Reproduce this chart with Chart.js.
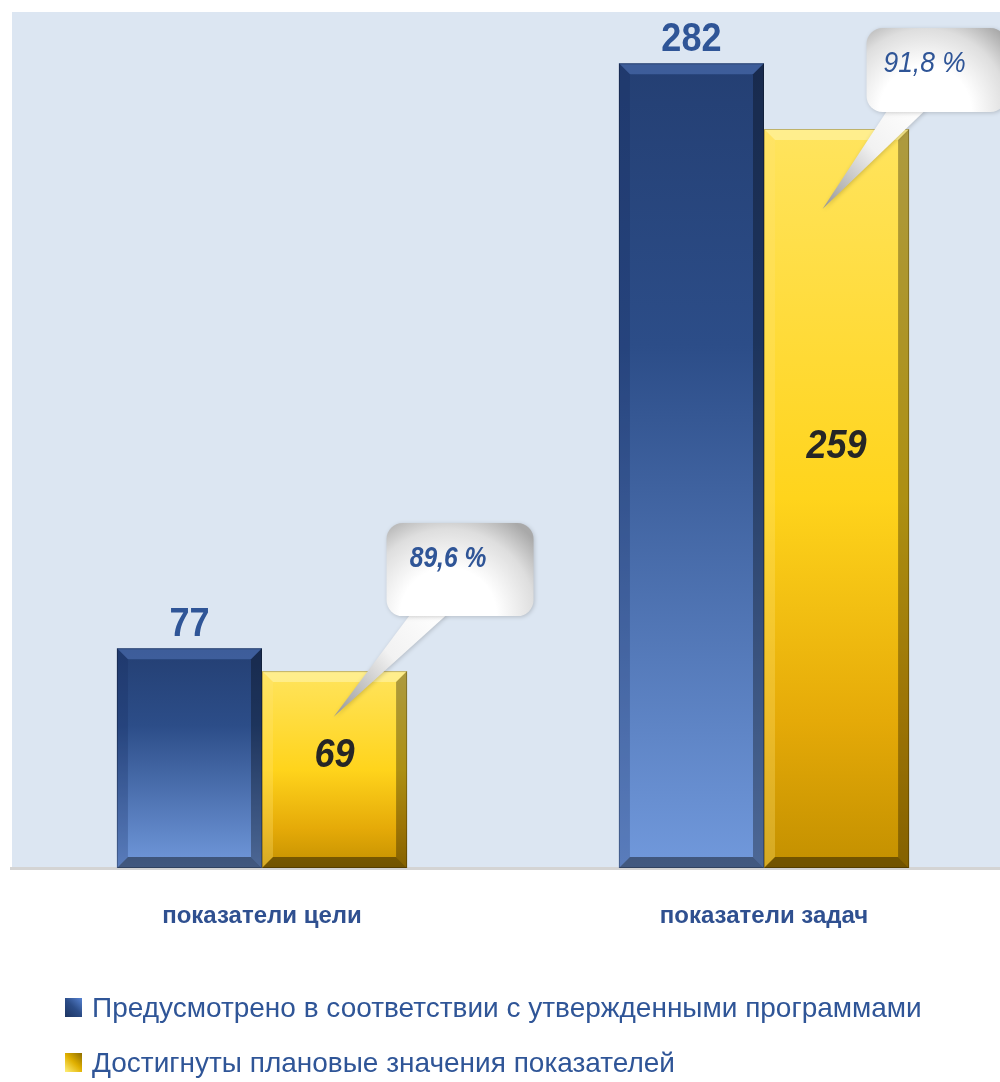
<!DOCTYPE html>
<html>
<head>
<meta charset="utf-8">
<script src="https://cdn.jsdelivr.net/npm/chart.js@4.4.1/dist/chart.umd.min.js"></script>
<style>
html,body{margin:0;padding:0;overflow:hidden;background:#fff;width:1000px;height:1082px;}
#wrap{position:absolute;left:0;top:0;width:1016px;height:1082px;}
</style>
</head>
<body>
<div id="wrap"><canvas id="c" width="1016" height="1082"></canvas></div>
<script>
const categories = ['показатели цели', 'показатели задач'];
const seriesNames = ['Предусмотрено в соответствии с утвержденными программами', 'Достигнуты плановые значения показателей'];
const planned = [77, 282];
const achieved = [69, 259];

const FONT = '"Liberation Sans", Arial, sans-serif';
const BLUE_TEXT = '#2f5597';

function pct(i){ return (achieved[i] / planned[i] * 100).toFixed(1).replace('.', ',') + ' %'; }

function barGradient(kind){
  return (ctx) => {
    const chart = ctx.chart;
    if (!chart.chartArea || ctx.raw == null) return kind === 0 ? '#2f5597' : '#ffd21a';
    const ys = chart.scales.y;
    const top = ys.getPixelForValue(ctx.raw), bot = ys.getPixelForValue(0);
    const g = chart.ctx.createLinearGradient(0, top, 0, bot);
    if (kind === 0) {
      g.addColorStop(0, '#243f73');
      g.addColorStop(0.35, '#2c4d88');
      g.addColorStop(1, '#7199dc');
    } else {
      g.addColorStop(0, '#ffe45e');
      g.addColorStop(0.5, '#ffd41c');
      g.addColorStop(0.8, '#e5aa08');
      g.addColorStop(1, '#c39000');
    }
    return g;
  };
}

const bgPlugin = {
  id: 'bg',
  beforeDraw(chart){
    const {ctx, chartArea:a} = chart;
    ctx.save();
    ctx.fillStyle = '#dce6f2';
    ctx.fillRect(a.left + 1, a.top, a.right - a.left, a.bottom - a.top);
    ctx.restore();
  }
};

function poly(ctx, pts, fill){
  ctx.beginPath();
  ctx.moveTo(pts[0][0], pts[0][1]);
  for (let i = 1; i < pts.length; i++) ctx.lineTo(pts[i][0], pts[i][1]);
  ctx.closePath();
  ctx.fillStyle = fill;
  ctx.fill();
}

function narrowText(ctx, text, x, y, sx){
  ctx.save();
  ctx.translate(x, y);
  ctx.scale(sx, 1);
  ctx.fillText(text, 0, 0);
  ctx.restore();
}

const callouts = [
  {dx: 52, dy: -148, w: 147, h: 93, t0: 24, t1: 61, tipDx: -1, tipDy: 46, bold: true},
  {dx: 30, dy: -101, w: 140, h: 84, t0: 21, t1: 59, tipDx: -14, tipDy: 80, bold: false}
];

const decoPlugin = {
  id: 'deco',
  afterDatasetsDraw(chart){
    const ctx = chart.ctx;
    const ys = chart.scales.y;
    // bevels
    chart.data.datasets.forEach((ds, di) => {
      chart.getDatasetMeta(di).data.forEach((el) => {
        const l = el.x - el.width / 2, r = el.x + el.width / 2, t = el.y, b = el.base;
        const v = 11;
        ctx.save();
        poly(ctx, [[l,t],[r,t],[r-v,t+v],[l+v,t+v]], di === 0 ? 'rgba(110,150,225,0.35)' : 'rgba(255,250,200,0.45)');
        poly(ctx, [[l,t],[l+v,t+v],[l+v,b-v],[l,b]], di === 0 ? 'rgba(20,40,90,0.25)' : 'rgba(255,230,120,0.3)');
        poly(ctx, [[r,t],[r,b],[r-v,b-v],[r-v,t+v]], 'rgba(0,0,0,0.32)');
        poly(ctx, [[l,b],[r,b],[r-v,b-v],[l+v,b-v]], 'rgba(0,0,0,0.42)');
        ctx.strokeStyle = 'rgba(0,0,0,0.25)';
        ctx.lineWidth = 1;
        ctx.strokeRect(l + 0.5, t + 0.5, r - l - 1, b - t - 1);
        ctx.restore();
      });
    });
    // value labels
    ctx.save();
    ctx.textAlign = 'center';
    chart.getDatasetMeta(0).data.forEach((el, i) => {
      ctx.font = 'bold 41px ' + FONT;
      ctx.fillStyle = BLUE_TEXT;
      ctx.textBaseline = 'alphabetic';
      narrowText(ctx, String(planned[i]), el.x, el.y - 12, 0.88);
    });
    chart.getDatasetMeta(1).data.forEach((el, i) => {
      ctx.font = 'italic bold 41px ' + FONT;
      ctx.fillStyle = '#262626';
      ctx.textBaseline = 'middle';
      narrowText(ctx, String(achieved[i]), el.x, ys.getPixelForValue(achieved[i] * 0.57), 0.88);
    });
    ctx.restore();
    // callouts
    chart.getDatasetMeta(1).data.forEach((el, i) => {
      const c = callouts[i];
      const bx = el.x + c.dx, by = el.y + c.dy;
      const tipX = el.x + c.tipDx, tipY = el.y + c.tipDy;
      ctx.save();
      ctx.shadowColor = 'rgba(0,0,0,0.18)';
      ctx.shadowBlur = 4;
      ctx.shadowOffsetX = 1; ctx.shadowOffsetY = 1;
      const tg = ctx.createLinearGradient(bx + c.t1, by + c.h, tipX, tipY);
      tg.addColorStop(0, '#ffffff');
      tg.addColorStop(0.45, '#f2f2f2');
      tg.addColorStop(1, '#959595');
      poly(ctx, [[bx + c.t0, by + c.h - 2], [bx + c.t1, by + c.h - 2], [tipX, tipY]], tg);
      const cx = bx + c.w * 0.42, cy = by + c.h * 1.0;
      const rg = ctx.createRadialGradient(cx, cy, 4, cx, cy, c.w * 0.78);
      rg.addColorStop(0, '#ffffff');
      rg.addColorStop(0.4, '#ffffff');
      rg.addColorStop(0.75, '#dedede');
      rg.addColorStop(1, '#a9a9a9');
      ctx.beginPath();
      ctx.roundRect(bx, by, c.w, c.h, 16);
      ctx.fillStyle = rg;
      ctx.fill();
      ctx.restore();
      ctx.save();
      ctx.font = 'italic ' + (c.bold ? 'bold ' : '') + '30px ' + FONT;
      ctx.fillStyle = BLUE_TEXT;
      ctx.textAlign = 'center';
      ctx.textBaseline = 'middle';
      narrowText(ctx, pct(i), bx + c.w / 2 - 12, by + 36, c.bold ? 0.82 : 0.88);
      ctx.restore();
    });
  },
  afterDraw(chart){
    const ctx = chart.ctx;
    const rows = [
      {y: 1008, c0: '#1c3461', c1: '#5a86d6'},
      {y: 1063, c0: '#fff07a', c1: '#8a6a00'}
    ];
    chart.data.datasets.forEach((ds, i) => {
      const r = rows[i];
      ctx.save();
      const g = ctx.createLinearGradient(65, r.y + 9, 83, r.y - 10);
      g.addColorStop(0, r.c0);
      g.addColorStop(0.5, i === 0 ? '#2c4d88' : '#e0b000');
      g.addColorStop(1, r.c1);
      ctx.fillStyle = g;
      ctx.fillRect(65, r.y - 10, 17, 19);
      ctx.font = '28px ' + FONT;
      ctx.fillStyle = BLUE_TEXT;
      ctx.textAlign = 'left';
      ctx.textBaseline = 'middle';
      ctx.fillText(ds.label, 92, r.y + 1);
      ctx.restore();
    });
  }
};

new Chart(document.getElementById('c'), {
  type: 'bar',
  data: {
    labels: categories,
    datasets: [
      {label: seriesNames[0], data: planned, backgroundColor: barGradient(0), borderWidth: 0},
      {label: seriesNames[1], data: achieved, backgroundColor: barGradient(1), borderWidth: 0}
    ]
  },
  options: {
    responsive: false,
    animation: false,
    events: [],
    layout: {padding: {top: 12, left: 11, right: 1, bottom: 0}},
    datasets: {bar: {categoryPercentage: 0.578, barPercentage: 1.0}},
    plugins: {legend: {display: false}, tooltip: {enabled: false}, title: {display: false}},
    scales: {
      y: {display: false, min: 0, max: 300},
      x: {
        grid: {display: false, drawTicks: false},
        border: {display: true, color: '#d4d4d4', width: 3},
        ticks: {
          color: '#2f5090',
          font: {family: FONT, size: 24, weight: 'bold'},
          padding: 34
        },
        afterFit(scale){ scale.height = 214; }
      }
    }
  },
  plugins: [bgPlugin, decoPlugin]
});
</script>
</body>
</html>
